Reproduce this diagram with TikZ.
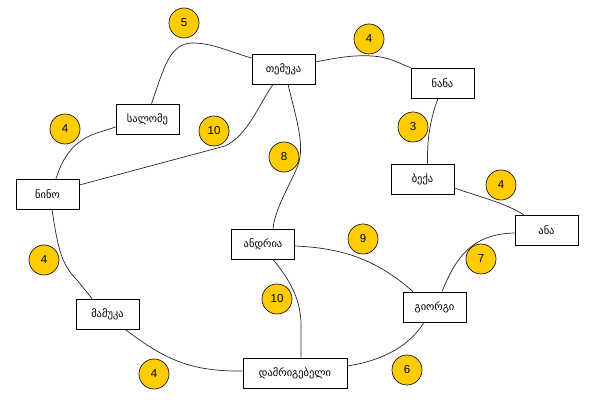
\documentclass[tikz,border=0pt]{standalone}
\usepackage{fontspec}
\setmainfont{Liberation Sans}
\newfontfamily\geofont{DejaVu Sans}
\begin{document}
\begin{tikzpicture}[x=1pt,y=-1pt,
  person/.style={draw=black,line width=0.8pt,fill=white,minimum width=63pt,minimum height=30pt,inner sep=0pt,font=\geofont\fontsize{10.5}{12}\selectfont},
  weight/.style={circle,draw=black!90,line width=0.7pt,fill=yellowc,minimum size=30pt,inner sep=0pt,font=\fontsize{11.5}{13}\selectfont},
  link/.style={draw=black!85,line width=0.7pt}]
\definecolor{yellowc}{RGB}{255,204,0}
\useasboundingbox (0,0) rectangle (597,411);
% nodes
\node[person] (temuka) at (283.5,69) {თემუკა};
\node[person] (salome) at (147.5,119) {სალომე};
\node[person] (nana) at (442.5,83) {ნანა};
\node[person] (beka) at (422.5,179) {ბექა};
\node[person] (ana) at (546.5,230) {ანა};
\node[person] (nino) at (47.5,194) {ნინო};
\node[person] (mamuka) at (107.5,314) {მამუკა};
\node[person,minimum width=104pt] (dam) at (295,373) {დამრიგებელი};
\node[person] (andria) at (263,244) {ანდრია};
\node[person] (giorgi) at (434.5,307) {გიორგი};
% connectors
\path[link] ([xshift=4pt]salome.north) .. controls (165,65) and (170,42) .. (195,43) .. controls (215,44) and (230,52) .. ([yshift=11pt]temuka.west);
\path[link] ([yshift=7pt]temuka.east) .. controls (340,57) and (355,55) .. (372,56) .. controls (390,57) and (400,64) .. (nana.north west);
\path[link] ([xshift=-4.5pt]nana.south) .. controls (430,120) and (427,140) .. ([xshift=5pt]beka.north);
\path[link] ([yshift=-9pt]beka.east) .. controls (480,197) and (505,203) .. ([xshift=-23pt]ana.north);
\path[link] ([yshift=-3pt]ana.west) .. controls (470,234) and (455,260) .. ([xshift=7.5pt]giorgi.north);
\path[link] ([xshift=-10.5pt]giorgi.south) .. controls (410,345) and (385,360) .. ([yshift=7pt]dam.east);
\path[link] ([yshift=-2pt]andria.east) .. controls (340,248) and (375,258) .. ([xshift=-21.5pt]giorgi.north);
\path[link] ([xshift=10pt]andria.south) .. controls (290,280) and (301,300) .. (301,325) -- ([xshift=6pt]dam.north);
\path[link] ([xshift=4.5pt]temuka.south) .. controls (298,125) and (306,150) .. (296,170) .. controls (287,190) and (275,210) .. ([xshift=10pt]andria.north);
\path[link] ([xshift=-10.5pt]temuka.south) .. controls (258,106) and (248,135) .. (225,146) -- ([yshift=9pt]nino.east);
\path[link] ([xshift=8.5pt]nino.north) .. controls (62,160) and (72,140) .. (100,132) -- ([yshift=-8pt]salome.west);
\path[link] ([xshift=4.5pt]nino.south) .. controls (58,250) and (62,265) .. (77,280) -- ([xshift=-15.5pt]mamuka.north);
\path[link] ([xshift=17.5pt]mamuka.south) .. controls (160,355) and (185,372) .. ([yshift=2pt]dam.west);
% weights
\node[weight] (w1) at (184,23) {5};
\node[weight] (w2) at (214,131) {10};
\node[weight] (w3) at (284,157) {8};
\node[weight] (w4) at (369,39) {4};
\node[weight] (w5) at (413,127) {3};
\node[weight] (w6) at (501,185) {4};
\node[weight] (w7) at (363,239) {9};
\node[weight] (w8) at (481,259) {7};
\node[weight] (w9) at (277,299) {10};
\node[weight] (w10) at (407,370) {6};
\node[weight] (w11) at (44,260) {4};
\node[weight] (w12) at (154,374) {4};
\node[weight] (w13) at (65,129) {4};
\end{tikzpicture}
\end{document}
